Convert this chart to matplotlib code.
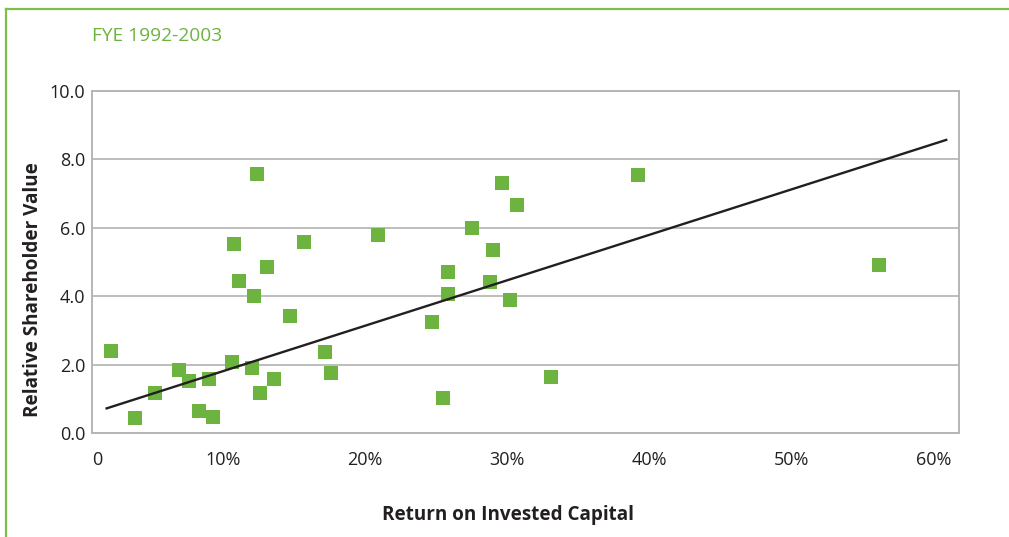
import matplotlib
matplotlib.use("Agg")
import matplotlib.pyplot as plt
from matplotlib.lines import Line2D

plt.rcParams['font.family'] = ['Open Sans', 'DejaVu Sans']

# Return on invested capital (%) and relative shareholder value
roic = [2.1, 3.8, 5.2, 6.9, 7.6, 8.3, 9.0, 9.3, 10.6, 10.8, 11.1, 12.0, 12.2,
        12.4, 12.6, 13.1, 13.6, 14.7, 15.7, 17.2, 17.6, 20.9, 29.6, 30.7,
        27.5, 29.0, 25.8, 25.8, 28.8, 30.2, 24.7, 33.1, 25.5, 39.2, 56.2]
rsv = [2.39, 0.45, 1.16, 1.84, 1.51, 0.63, 1.58, 0.48, 2.07, 5.52, 4.44, 1.91,
       4.00, 7.58, 1.16, 4.85, 1.57, 3.41, 5.58, 2.36, 1.74, 5.79, 7.31, 6.67,
       5.99, 5.35, 4.70, 4.06, 4.41, 3.88, 3.24, 1.65, 1.01, 7.55, 4.91]

# trend line end points
trend_x = [1.8, 60.9]
trend_y = [0.72, 8.57]

x_ticks = [10, 20, 30, 40, 50, 60]
x_labels = ['10%', '20%', '30%', '40%', '50%', '60%']
y_ticks = [0, 2, 4, 6, 8, 10]

green = '#6db33f'
grey = '#ababab'
text_col = '#231f20'

fig = plt.figure(figsize=(10.09, 5.37), dpi=100)
ax = fig.add_axes([92 / 1009, 1 - 433 / 537, 867 / 1009, 342 / 537])

# green frame round the panel
fig.add_artist(Line2D([6 / 1009, 6 / 1009], [0, 1 - 8.5 / 537], transform=fig.transFigure,
                      color='#7cbf4a', lw=1.6))
fig.add_artist(Line2D([6 / 1009, 1], [1 - 8.5 / 537, 1 - 8.5 / 537], transform=fig.transFigure,
                      color='#7cbf4a', lw=1.6))

ax.scatter(roic, rsv, marker='s', s=9.4 ** 2, color=green, linewidths=0, zorder=3)
ax.plot(trend_x, trend_y, color='#231f20', lw=1.7, zorder=4)

ax.set_xlim(0.77, 61.8)
ax.set_ylim(0, 10)
ax.set_yticks(y_ticks)
ax.set_yticklabels(['%.1f' % v for v in y_ticks])
ax.set_xticks([0.77] + x_ticks)
ax.set_xticklabels(['0'] + x_labels)
for lab in ax.get_xticklabels()[:1]:
    lab.set_ha('left')
ax.tick_params(axis='both', length=0, labelsize=13, colors=text_col)
ax.tick_params(axis='x', pad=13)
ax.tick_params(axis='y', pad=5)
ax.grid(axis='y', color=grey, lw=1.1)
ax.set_axisbelow(True)
for sp in ax.spines.values():
    sp.set_color('#b5b5b5')
    sp.set_linewidth(1.4)

fig.text(92 / 1009, 1 - 36 / 537, 'FYE 1992-2003', color=green, fontsize=13.8,
         ha='left', va='center')
fig.text(33 / 1009, 1 - 290 / 537, 'Relative Shareholder Value', rotation=90,
         ha='center', va='center', fontsize=13.6, fontweight='bold', color=text_col)
fig.text(508 / 1009, 1 - 515 / 537, 'Return on Invested Capital',
         ha='center', va='center', fontsize=13.6, fontweight='bold', color=text_col)

fig.savefig('out.png', dpi=100)
